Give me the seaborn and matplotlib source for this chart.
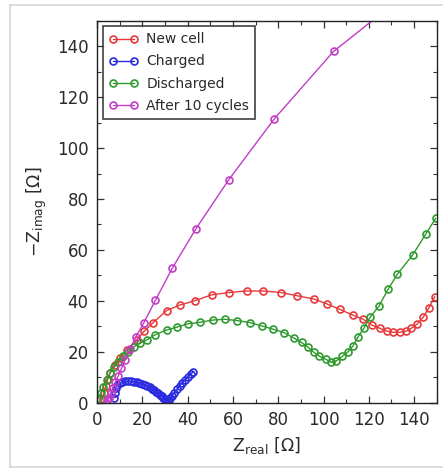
import matplotlib
matplotlib.use("Agg")
import matplotlib.pyplot as plt
import seaborn as sns
import numpy as np
from matplotlib.lines import Line2D
from matplotlib.ticker import MultipleLocator

# Nyquist data: Z_real [Ohm] and -Z_imag [Ohm] for each cell state
new_cell_x = [2.5, 3.0, 3.8, 4.7, 5.7, 7.9, 10.1, 13.1, 17.5, 20.9, 24.8, 30.7, 36.6,
              43.2, 50.6, 58.2, 66.0, 73.4, 81.2, 88.5, 95.6, 101.6, 107.2, 112.8,
              117.5, 121.2, 124.8, 127.8, 130.7, 133.7, 136.6, 138.8, 141.3, 144.0,
              146.4, 149.1]
new_cell_y = [1.5, 4.0, 6.5, 9.2, 11.8, 15.0, 17.6, 20.8, 24.7, 28.2, 31.5, 36.2, 38.4,
              40.1, 42.4, 43.3, 43.9, 43.9, 43.3, 42.0, 40.8, 38.8, 36.7, 34.5,
              32.8, 30.6, 29.3, 28.2, 27.7, 27.7, 28.2, 29.3, 30.9, 33.6,
              37.1, 41.7]

charged_x = [7.5, 7.8, 8.3, 9.0, 10.0, 11.2, 12.5, 13.8, 15.0, 16.3, 17.5, 18.7, 19.9,
             21.0, 22.1, 23.2, 24.2, 25.2, 26.1, 27.0, 27.8, 28.6, 29.3, 30.0, 30.6,
             31.2, 31.8, 32.4, 33.2, 34.2, 35.3, 36.5, 37.7, 38.9, 40.1, 41.3, 42.5]
charged_y = [2.0, 4.0, 5.8, 7.0, 7.8, 8.3, 8.5, 8.5, 8.4, 8.2, 8.0, 7.7, 7.4,
             7.0, 6.6, 6.1, 5.6, 5.0, 4.4, 3.8, 3.2, 2.6, 2.0, 1.5, 1.1,
             1.0, 1.2, 1.8, 2.8, 4.0, 5.3, 6.6, 7.9, 9.1, 10.2, 11.2, 12.2]

discharged_x = [0.6, 1.8, 2.8, 4.3, 5.7, 7.6, 9.4, 11.6, 13.8, 16.5, 19.0, 21.9, 25.6,
                30.7, 35.2, 40.0, 45.4, 51.0, 56.5, 61.9, 67.5, 72.7, 77.8, 82.5,
                87.0, 90.3, 93.2, 95.6, 98.2, 101.0, 103.5, 105.7, 108.2, 110.9,
                113.1, 115.3, 117.8, 120.7, 124.5, 128.5, 132.6, 139.3, 145.1, 149.5]
discharged_y = [1.8, 3.8, 6.4, 9.0, 11.6, 14.0, 16.2, 18.2, 20.1, 22.1, 23.4, 24.7, 26.7,
                28.6, 29.7, 31.0, 31.6, 32.5, 32.8, 32.3, 31.5, 30.2, 28.9, 27.6,
                25.4, 23.7, 21.8, 19.9, 18.3, 17.1, 15.9, 16.5, 18.2, 20.1,
                22.5, 26.0, 29.3, 33.8, 38.0, 44.6, 50.5, 58.0, 66.2, 72.4]

cycled_x = [4.0, 4.6, 5.2, 6.0, 7.0, 8.0, 9.3, 10.8, 12.5, 14.5, 17.2, 20.6, 25.8,
            33.2, 43.7, 58.2, 78.3, 104.5, 140.0]
cycled_y = [0.0, 1.0, 2.0, 3.8, 5.9, 8.0, 10.5, 13.5, 17.0, 21.0, 26.0, 31.3, 40.3,
            52.8, 68.4, 87.6, 111.5, 138.0, 163.0]

series_labels = ["New cell", "Charged", "Discharged", "After 10 cycles"]
series_colors = ["#e8393a", "#2a2ae0", "#2e9a2e", "#c23cc6"]

sns.set_theme(style="ticks")
plt.rcParams["font.family"] = ["DejaVu Sans"]

fig = plt.figure(figsize=(4.43, 4.69), dpi=100)
ax = fig.add_axes([0.219, 0.141, 0.767, 0.815])

series = [(new_cell_x, new_cell_y), (charged_x, charged_y),
          (discharged_x, discharged_y), (cycled_x, cycled_y)]
for (xs, ys), lab, col in zip(series, series_labels, series_colors):
    sns.lineplot(x=xs, y=ys, ax=ax, sort=False, estimator=None, label=lab,
                 color=col, linewidth=1.0, marker="o", markersize=5.0,
                 markerfacecolor="none", markeredgecolor=col,
                 markeredgewidth=1.2)

ax.set_xlim(0, 150)
ax.set_ylim(0, 150)
ax.xaxis.set_major_locator(MultipleLocator(20))
ax.xaxis.set_minor_locator(MultipleLocator(10))
ax.yaxis.set_major_locator(MultipleLocator(20))
ax.yaxis.set_minor_locator(MultipleLocator(10))
ax.tick_params(which="both", direction="in", top=True, right=True,
               colors="#333333", labelcolor="#2a2a2a")
ax.tick_params(which="major", length=5, width=0.9, labelsize=12, pad=6)
ax.tick_params(which="minor", length=3, width=0.8)
for sp in ax.spines.values():
    sp.set_color("#222222")
    sp.set_linewidth(1.0)

ax.set_xlabel(r"Z$_{\mathrm{real}}$ [Ω]", fontsize=12.5, color="#2a2a2a", labelpad=4)
ax.set_ylabel(r"$-$Z$_{\mathrm{imag}}$ [Ω]", fontsize=12.5, color="#2a2a2a", labelpad=6)

leg = ax.legend(loc="upper left", numpoints=2, fontsize=10.0, frameon=True,
                fancybox=False, borderpad=0.45, handlelength=2.1,
                handletextpad=0.6, labelspacing=0.58, borderaxespad=0.4)
leg.get_frame().set_edgecolor("#111111")
leg.get_frame().set_linewidth(1.2)
for t in leg.get_texts():
    t.set_color("#2a2a2a")

# light border around the figure
W, H = 443.0, 469.0
border = dict(color="#d4d4d4", linewidth=1.2, transform=fig.transFigure)
fig.add_artist(Line2D([10 / W, 10 / W], [1 - 5 / H, 1 - 467 / H], **border))
fig.add_artist(Line2D([10 / W, 1.0], [1 - 5 / H, 1 - 5 / H], **border))
fig.add_artist(Line2D([10 / W, 1.0], [1 - 467 / H, 1 - 467 / H], **border))

fig.savefig("out.png", dpi=100)
